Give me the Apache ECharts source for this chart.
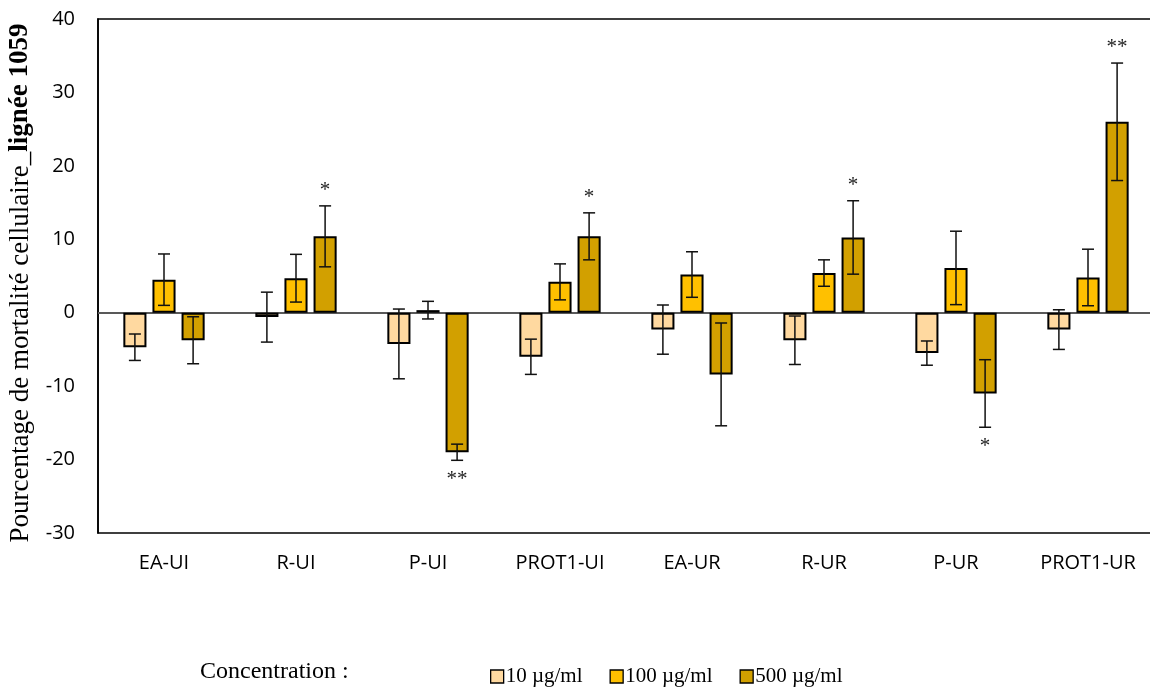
<!DOCTYPE html>
<html><head><meta charset="utf-8">
<script src="https://cdn.jsdelivr.net/npm/echarts@6/dist/echarts.min.js"></script>
<style>html,body{margin:0;padding:0;background:#fff}#c{width:1150px;height:691px}</style>
</head><body><div id="c"></div>
<script>
const categories = ['EA-UI','R-UI','P-UI','PROT1-UI','EA-UR','R-UR','P-UR','PROT1-UR'];
const seriesNames = ['10 µg/ml','100 µg/ml','500 µg/ml'];
const vals10  = [-4.7, -0.6, -4.25, -6.0, -2.3, -3.75, -5.5, -2.3];
const err10   = [1.8, 3.4, 4.75, 2.4, 3.35, 3.3, 1.65, 2.7];
const vals100 = [4.5, 4.7, 0.35, 4.2, 5.2, 5.4, 6.1, 4.8];
const err100  = [3.5, 3.25, 1.2, 2.45, 3.1, 1.8, 5.0, 3.85];
const vals500 = [-3.75, 10.4, -19.0, 10.4, -8.4, 10.25, -11.0, 26.0];
const err500  = [3.2, 4.15, 1.1, 3.2, 7.0, 5.0, 4.6, 8.0];
const stars500 = ['', '*', '**', '*', '', '*', '*', '**'];
const yTicks = [-30, -20, -10, 0, 10, 20, 30, 40];
const colors = ['#FFD9A0', '#FFC000', '#D2A000'];

const allVals = [vals10, vals100, vals500];
const allErr = [err10, err100, err500];
const allStars = [['','','','','','','',''], ['','','','','','','',''], stars500];

const BAR_FRAC = 0.175, GAP = 0.26;

const chart = echarts.init(document.getElementById('c'));
const series = [];
allVals.forEach((v, k) => {
  series.push({
    name: seriesNames[k], type: 'bar', data: v,
    barWidth: (BAR_FRAC*100)+'%', barGap: (GAP*100)+'%',
    itemStyle: {color: colors[k], borderColor: '#000', borderWidth: 2},
    z: 3,
    markLine: k === 0 ? {silent: true, symbol: ['none','none'], label: {show: false},
      lineStyle: {color: '#595959', width: 1.8, type: 'solid'}, data: [{yAxis: 0}], z: 2} : undefined
  });
});
allVals.forEach((v, k) => {
  series.push({
    type: 'custom', z: 5, silent: true,
    data: v.map((val, i) => [i, val, allErr[k][i]]),
    renderItem: function (params, api) {
      const i = api.value(0), val = api.value(1), e = api.value(2);
      const star = allStars[k][i];
      const bandW = api.size([1, 0])[0];
      const bw = bandW * BAR_FRAC;
      const off = (k - 1) * bw * (1 + GAP);
      const pHi = api.coord([i, val + e]);
      const pLo = api.coord([i, val - e]);
      const x = pHi[0] + off;
      const cap = 6;
      const st = {stroke: '#111', lineWidth: 1.5};
      const children = [
        {type: 'line', shape: {x1: x, y1: pHi[1], x2: x, y2: pLo[1]}, style: st},
        {type: 'line', shape: {x1: x - cap, y1: pHi[1], x2: x + cap, y2: pHi[1]}, style: st},
        {type: 'line', shape: {x1: x - cap, y1: pLo[1], x2: x + cap, y2: pLo[1]}, style: st}
      ];
      if (star) {
        const pos = val >= 0;
        children.push({type: 'text', style: {
          text: star, x: x, y: pos ? pHi[1] - 5 : pLo[1] + 9,
          align: 'center', verticalAlign: pos ? 'bottom' : 'top',
          font: '21px "Liberation Serif", serif', fill: '#222'}});
      }
      return {type: 'group', children: children};
    }
  });
});

chart.setOption({
  animation: false,
  backgroundColor: '#fff',
  grid: {left: 98, right: -4, top: 19, bottom: 158, show: true, borderColor: '#000', borderWidth: 1.6,
         containLabel: false, outerBoundsMode: 'none'},
  legend: {
    data: seriesNames, left: 485, top: 661, itemWidth: 13, itemHeight: 13, itemGap: 27,
    icon: 'rect',
    itemStyle: {borderColor: '#000', borderWidth: 1.3},
    textStyle: {fontFamily: '"Liberation Serif", serif', fontSize: 21, color: '#000', padding: [0,0,0,-3]}
  },
  graphic: [{type: 'text', left: 200, top: 660,
    style: {text: 'Concentration :', font: '24px "Liberation Serif", serif', fill: '#000'}}],
  xAxis: {
    type: 'category', data: categories, position: 'bottom',
    axisLine: {show: false}, axisTick: {show: false},
    axisLabel: {margin: 20, fontFamily: '"Open Sans", sans-serif', fontSize: 20, color: '#000'}
  },
  yAxis: {
    type: 'value', min: yTicks[0], max: yTicks[yTicks.length-1], interval: 10,
    splitLine: {show: false},
    axisLine: {show: true, lineStyle: {color: '#000', width: 1.6}},
    axisTick: {show: false},
    axisLabel: {margin: 23, fontFamily: '"Open Sans", sans-serif', fontSize: 20, color: '#000'},
    name: '{a|Pourcentage de mortalité cellulaire_}{b|lignée 1059}',
    nameLocation: 'middle', nameGap: 64, nameRotate: 90,
    nameTextStyle: {padding: [0, 14, 0, 0], rich: {
      a: {fontFamily: '"Liberation Serif", serif', fontSize: 27, color: '#000'},
      b: {fontFamily: '"Liberation Serif", serif', fontSize: 27, fontWeight: 'bold', color: '#000'}
    }}
  },
  series: series
});
</script></body></html>
